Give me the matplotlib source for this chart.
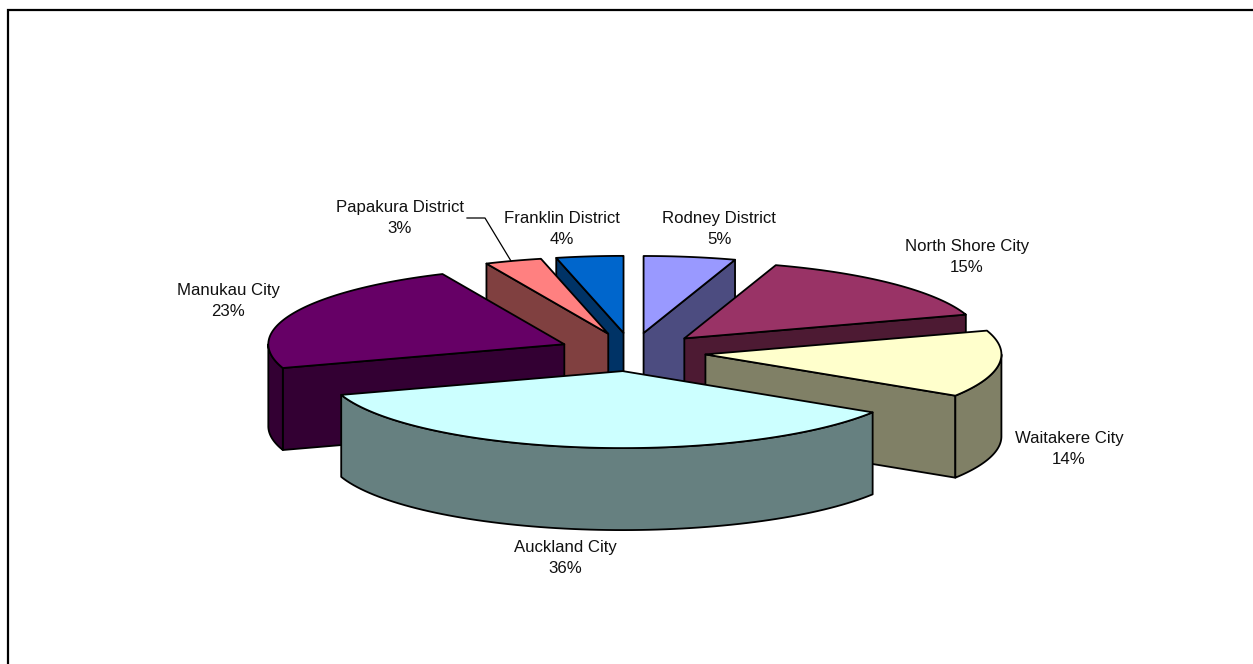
import numpy as np
import matplotlib
matplotlib.use("Agg")
import matplotlib.pyplot as plt
from matplotlib.patches import Polygon
from matplotlib.lines import Line2D

plt.rcParams['font.family'] = ['Liberation Sans', 'DejaVu Sans']

# Data (clockwise from 12 o'clock); labels show the rounded share
districts = ["Rodney District", "North Shore City", "Waitakere City", "Auckland City",
             "Manukau City", "Papakura District", "Franklin District"]
shares = [5.0, 15.0, 14.0, 36.0, 23.25, 3.1, 3.65]
top_colors = ["#9999FF", "#993366", "#FFFFCC", "#CCFFFF", "#660066", "#FF8080", "#0066CC"]
side_colors = ["#4C4C80", "#4D1A33", "#808066", "#668080", "#330033", "#804040", "#003366"]

W, H = 1253, 664
CX, CY, RX, RY, DEPTH, EXPLODE = 632, 352, 296, 77, 82, 0.25
label_pos = {
    "Rodney District": (719, 229), "North Shore City": (967, 257),
    "Waitakere City": (1069, 449), "Auckland City": (565, 558),
    "Manukau City": (228, 301), "Papakura District": (400, 218),
    "Franklin District": (562, 229),
}
draw_order = ["Rodney District", "Franklin District", "Papakura District", "North Shore City",
              "Manukau City", "Waitakere City", "Auckland City"]

fig = plt.figure(figsize=(W / 100, H / 100), dpi=100)
ax = fig.add_axes([0, 0, 1, 1])
ax.set_xlim(0, W)
ax.set_ylim(H, 0)
ax.axis("off")

total = sum(shares)
edges = np.concatenate([[0], np.cumsum(shares)]) / total * 2 * np.pi


def point(theta, ox, oy):
    return np.column_stack([ox + RX * np.sin(theta), oy - RY * np.cos(theta)])


style = dict(edgecolor="black", linewidth=1.3, joinstyle="round")
for name in draw_order:
    i = districts.index(name)
    z = draw_order.index(name) * 3
    a0, a1 = edges[i], edges[i + 1]
    mid = (a0 + a1) / 2
    ox = CX + EXPLODE * RX * np.sin(mid)
    oy = CY - EXPLODE * RY * np.cos(mid)
    apex = np.array([ox, oy])
    down = np.array([0, DEPTH])
    arc = point(np.linspace(a0, a1, 80), ox, oy)
    # radial walls: only those turned toward the viewer
    if np.sin(a0) < -1e-9:
        ax.add_patch(Polygon([apex, arc[0], arc[0] + down, apex + down],
                             facecolor=side_colors[i], zorder=z + 1, **style))
    if np.sin(a1) > 1e-9:
        ax.add_patch(Polygon([apex, arc[-1], arc[-1] + down, apex + down],
                             facecolor=side_colors[i], zorder=z + 1, **style))
    # outer rim: only the part facing the viewer
    lo, hi = max(a0, np.pi / 2), min(a1, 3 * np.pi / 2)
    if hi > lo:
        rim = point(np.linspace(lo, hi, 80), ox, oy)
        ax.add_patch(Polygon(np.vstack([rim, (rim + down)[::-1]]),
                             facecolor=side_colors[i], zorder=z + 2, **style))
    # top surface
    ax.add_patch(Polygon(np.vstack([apex, arc]), facecolor=top_colors[i],
                         zorder=z + 3, **style))

for name, share in zip(districts, shares):
    x, y = label_pos[name]
    ax.text(x, y, f"{name}\n{round(share)}%", ha="center", va="center", fontsize=12.1,
            linespacing=1.42, color="#111111", zorder=40)

# leader line for the smallest slice
ax.add_line(Line2D([467, 485, 511], [218, 218, 261], color="black", lw=0.9, zorder=41))

# chart-area frame: only the top and left edges fall inside the picture
ax.add_line(Line2D([8, 8, W], [H, 10, 10], color="black", lw=1.6, zorder=50,
                   solid_joinstyle="miter"))

fig.savefig("out.png", dpi=100, facecolor="white")
